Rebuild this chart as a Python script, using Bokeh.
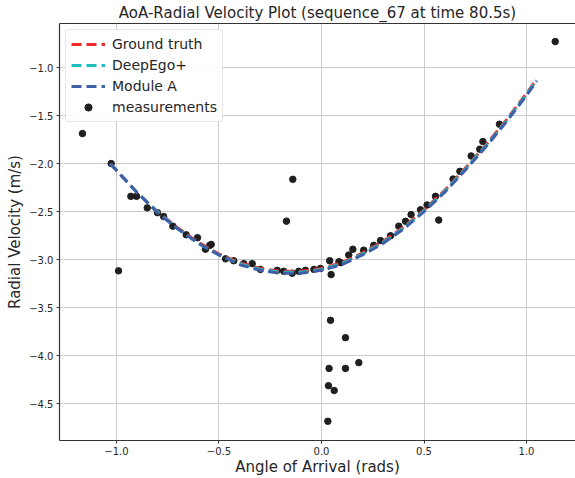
from bokeh.plotting import figure
from bokeh.models import Legend, LegendItem, LinearAxis, FixedTicker, Range1d
from bokeh.embed import file_html
from bokeh.resources import INLINE

# Model curves (angle of arrival in rad, radial velocity in m/s)
curve_aoa = [-1.03, -0.9, -0.8, -0.7, -0.6, -0.5, -0.4, -0.3, -0.2, -0.1, 0.0,
             0.1, 0.2, 0.3, 0.4, 0.5, 0.6, 0.7, 0.8, 0.9, 1.0, 1.05]
ground_truth = [-2.00, -2.30, -2.50, -2.67, -2.82, -2.94, -3.03, -3.09, -3.12, -3.12, -3.09,
                -3.03, -2.93, -2.81, -2.66, -2.48, -2.28, -2.05, -1.81, -1.55, -1.27, -1.12]
deepego_plus = [-2.00, -2.30, -2.50, -2.68, -2.83, -2.95, -3.04, -3.10, -3.13, -3.13, -3.10,
                -3.04, -2.94, -2.82, -2.67, -2.49, -2.29, -2.06, -1.82, -1.56, -1.28, -1.13]
module_a = [-2.00, -2.30, -2.51, -2.68, -2.83, -2.95, -3.05, -3.11, -3.14, -3.14, -3.11,
            -3.05, -2.95, -2.83, -2.68, -2.50, -2.30, -2.07, -1.83, -1.57, -1.29, -1.14]

# Radar measurements
meas_aoa = [1.14, -1.166, -0.99, -0.14, -0.171, 0.047, 0.572,
            0.044, 0.117, 0.182, 0.037, 0.117, 0.034, 0.062, 0.031,
            -1.026, -0.93, -0.902, -0.85, -0.80, -0.77, -0.725, -0.66, -0.605, -0.545, -0.566,
            -0.538, -0.468, -0.428, -0.379, -0.338, -0.298, -0.216, -0.184, -0.143, -0.111,
            -0.078, -0.037, -0.005, 0.04, 0.085,
            0.093, 0.133, 0.153, 0.206, 0.255, 0.288, 0.337, 0.377, 0.41, 0.437, 0.483,
            0.515, 0.556, 0.642, 0.675, 0.730, 0.772, 0.787, 0.868]
meas_vr = [-0.73, -1.687, -3.115, -2.163, -2.598, -3.154, -2.587,
           -3.63, -3.81, -4.07, -4.13, -4.13, -4.31, -4.36, -4.68,
           -1.999, -2.34, -2.34, -2.46, -2.51, -2.55, -2.65, -2.74, -2.77, -2.85, -2.89,
           -2.84, -2.99, -3.01, -3.04, -3.04, -3.10, -3.11, -3.12, -3.14, -3.12,
           -3.11, -3.10, -3.09, -3.01, -3.02,
           -3.03, -2.95, -2.89, -2.90, -2.85, -2.80, -2.75, -2.65, -2.60, -2.53, -2.48,
           -2.43, -2.34, -2.16, -2.08, -1.92, -1.85, -1.77, -1.59]

x_ticks = [-1.0, -0.5, 0.0, 0.5, 1.0]
y_ticks = [-1.0, -1.5, -2.0, -2.5, -3.0, -3.5, -4.0, -4.5]

FONT = "DejaVu Sans"
TXT = "#262626"

p = figure(width=575, height=478, output_backend="svg", toolbar_location=None,
           x_range=Range1d(-1.278, 1.239), y_range=Range1d(-4.88, -0.542),
           min_border_left=59, min_border_right=0, min_border_top=10, min_border_bottom=10,
           background_fill_color="white", border_fill_color="white")

p.title.text = "AoA-Radial Velocity Plot (sequence_67 at time 80.5s)"
p.title.align = "center"
p.title.text_font = FONT
p.title.text_font_size = "15px"
p.title.text_font_style = "normal"
p.title.text_color = TXT
p.title.standoff = 3

p.outline_line_color = None

for ax in (p.xaxis[0], p.yaxis[0]):
    ax.axis_line_color = "#333333"
    ax.axis_line_width = 1.2
    ax.major_tick_line_color = "#333333"
    ax.major_tick_out = 3
    ax.major_tick_in = 0
    ax.minor_tick_line_color = None
    ax.major_label_text_font = FONT
    ax.major_label_text_font_size = "10px"
    ax.major_label_text_color = TXT
    ax.axis_label_text_font = FONT
    ax.axis_label_text_font_size = "15px"
    ax.axis_label_text_font_style = "normal"
    ax.axis_label_text_color = TXT

p.xaxis[0].ticker = FixedTicker(ticks=x_ticks)
p.yaxis[0].ticker = FixedTicker(ticks=y_ticks)
p.xaxis[0].axis_label = "Angle of Arrival (rads)"
p.yaxis[0].axis_label = "Radial Velocity (m/s)"
p.xaxis[0].major_label_overrides = {t: ("\u2212%.1f" % abs(t) if t < 0 else "%.1f" % t) for t in x_ticks}
p.yaxis[0].major_label_overrides = {t: "\u2212%.1f" % abs(t) for t in y_ticks}
p.xaxis[0].major_label_standoff = 3
p.yaxis[0].major_label_standoff = 3
p.xaxis[0].axis_label_standoff = 0
p.yaxis[0].axis_label_standoff = 2

top = LinearAxis(ticker=FixedTicker(ticks=[]), major_label_text_font_size="0px",
                 axis_line_color="#333333", axis_line_width=1.2,
                 major_tick_line_color=None, minor_tick_line_color=None,
                 major_tick_out=0, major_tick_in=0, major_label_standoff=0)
p.add_layout(top, "above")

p.xgrid.ticker = FixedTicker(ticks=x_ticks)
p.ygrid.ticker = FixedTicker(ticks=y_ticks)
p.xgrid.grid_line_color = "#cccccc"
p.ygrid.grid_line_color = "#cccccc"
p.xgrid.grid_line_width = 1
p.ygrid.grid_line_width = 1

sc = p.scatter(meas_aoa, meas_vr, size=6.5, color="#1f1f1f", line_color="#1f1f1f")
r_gt = p.line(curve_aoa, ground_truth, line_color="#f02828", line_width=3, line_dash="10 5")
r_de = p.line(curve_aoa, deepego_plus, line_color="#1fbfbf", line_width=3, line_dash="10 5")
r_ma = p.line(curve_aoa, module_a, line_color="#3f5fa8", line_width=3, line_dash="10 5")

legend = Legend(items=[
    LegendItem(label="Ground truth", renderers=[r_gt]),
    LegendItem(label="DeepEgo+", renderers=[r_de]),
    LegendItem(label="Module A", renderers=[r_ma]),
    LegendItem(label="measurements", renderers=[sc]),
], location="top_left")
legend.label_text_font = FONT
legend.label_text_font_size = "14px"
legend.label_text_color = TXT
legend.glyph_width = 34
legend.glyph_height = 18
legend.label_standoff = 7
legend.spacing = 3
legend.padding = 5
legend.margin = 6
legend.border_line_color = "#cccccc"
legend.border_line_width = 1
legend.border_radius = 3
legend.background_fill_alpha = 0.9
p.add_layout(legend)

open("out.html", "w").write(file_html(p, INLINE))
